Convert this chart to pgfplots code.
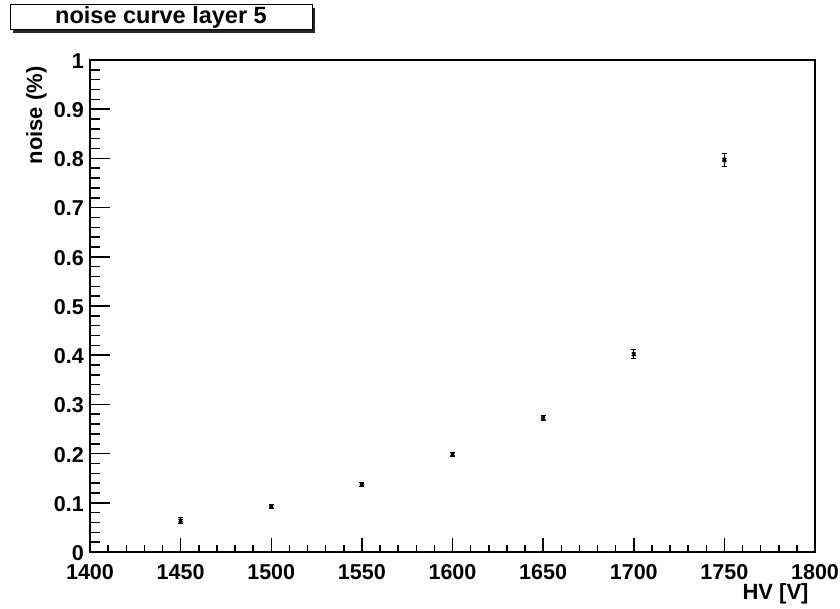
\documentclass[border=0pt]{standalone}
\usepackage{fontspec}
\setmainfont{Liberation Sans}
\usepackage{pgfplots}
\pgfplotsset{compat=1.18}
\pgfplotsset{
  common/.style={
    scale only axis, width=725pt, height=492pt,
    xmin=1400, xmax=1800, ymin=0, ymax=1,
    at={(90pt,56pt)}, anchor=south west,
    axis line style={line width=1.5pt},
    tick align=inside,
    every tick/.style={line width=1.5pt, black},
    minor tick style={line width=1.5pt, black},
    ticklabel style={font=\bfseries\fontsize{21.5}{21.5}\selectfont, inner sep=0pt},
    /pgf/number format/assume math mode=true,
    /pgf/number format/1000 sep={},
  }
}
\begin{document}
\begin{tikzpicture}[x=1pt,y=1pt]
\useasboundingbox (0,0) rectangle (840,608);
\fill[black!85] (13,575) rectangle (315,600);
\draw[fill=white, line width=1pt] (10,578) rectangle (312,603);
\node[font=\bfseries\fontsize{23.5}{23.5}\selectfont] at (161,590.5) {noise curve layer 5};
% y ticks axis
\begin{axis}[common,
  xtick=\empty,
  ytick={0,0.1,0.2,0.3,0.4,0.5,0.6,0.7,0.8,0.9,1},
  yticklabels={0,0.1,0.2,0.3,0.4,0.5,0.6,0.7,0.8,0.9,1},
  minor y tick num=4,
  major tick length=20pt, minor tick length=10pt,
  ytick pos=left,
  yticklabel style={xshift=-6pt, yshift=-1pt},
  ylabel={noise (\%)},
  every axis y label/.style={at={(axis description cs:-0.074,0.994)}, rotate=90, anchor=east, font=\bfseries\fontsize{22}{22}\selectfont},
]
\end{axis}
% x ticks axis + data
\begin{axis}[common,
  ytick=\empty,
  xtick={1400,1450,1500,1550,1600,1650,1700,1750,1800},
  minor x tick num=4,
  major tick length=14pt, minor tick length=7pt,
  xtick pos=bottom,
  xticklabel style={yshift=-12pt},
  xlabel={HV [V]},
  every axis x label/.style={at={(axis description cs:0.996,-0.084)}, anchor=east, font=\bfseries\fontsize{22}{22}\selectfont},
]
\addplot[only marks, mark=x, mark size=2.5pt, line width=1.8pt, black,
  error bars/.cd, y dir=both, y explicit,
  error bar style={line width=1pt, black},
  error mark options={rotate=90, mark size=2.5pt, line width=1pt, black}]
  table[x=x, y=y, y error=e] {
x y e
1450 0.0636 0.006
1500 0.092 0.004
1550 0.1376 0.004
1600 0.199 0.004
1650 0.272 0.005
1700 0.402 0.009
1750 0.797 0.0126
};
\end{axis}
\end{tikzpicture}
\end{document}
